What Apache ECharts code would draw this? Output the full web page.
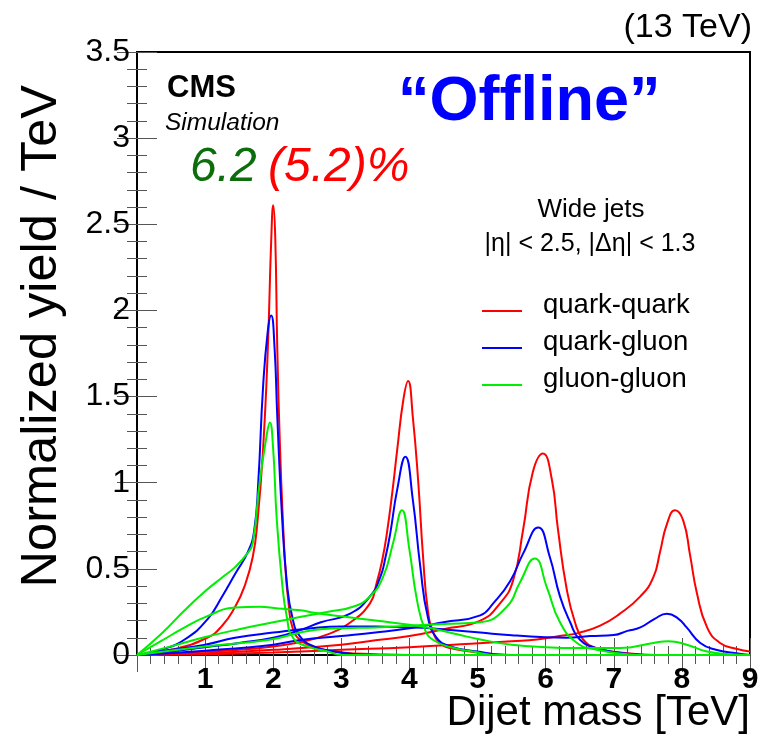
<!DOCTYPE html>
<html>
<head>
<meta charset="utf-8">
<script src="https://cdn.jsdelivr.net/npm/echarts@6.0.0/dist/echarts.min.js"></script>
<style>
  html, body { margin: 0; padding: 0; background: #ffffff; }
  #chart { width: 768px; height: 738px; }
</style>
</head>
<body>
<div id="chart"></div>
<script>
// Simulated dijet mass shapes, [mass in TeV, normalized yield / TeV],
// for resonances generated at 2, 4, 6 and 8 TeV.

// quark-quark
const qq2 = [[0,0],[0.5,0.03],[1.03,0.10],[1.25,0.17],[1.44,0.28],[1.58,0.40],[1.7,0.57],[1.77,0.78],[1.85,1.19],[1.92,1.77],[1.97,2.4],[2.0,2.61],[2.03,2.42],[2.06,1.77],[2.1,1.2],[2.14,0.80],[2.18,0.50],[2.22,0.32],[2.29,0.15],[2.44,0.075],[2.7,0.035],[3.0,0.015],[3.5,0.005],[4.0,0],[9,0]];
const qq4 = [[0,0],[0.5,0.008],[1.0,0.02],[1.5,0.03],[2.0,0.05],[2.4,0.075],[2.8,0.12],[3.1,0.18],[3.42,0.30],[3.52,0.42],[3.6,0.55],[3.67,0.71],[3.75,0.95],[3.82,1.19],[3.91,1.48],[3.98,1.59],[4.05,1.38],[4.13,1.0],[4.2,0.57],[4.27,0.26],[4.35,0.13],[4.45,0.07],[4.6,0.04],[5.0,0.015],[5.5,0],[9,0]];
const qq6 = [[0,0],[1,0.01],[2,0.03],[3,0.06],[3.5,0.085],[4,0.11],[4.5,0.15],[5.04,0.2],[5.33,0.30],[5.52,0.43],[5.67,0.73],[5.81,1.06],[5.96,1.17],[6.09,1.02],[6.18,0.73],[6.31,0.38],[6.43,0.19],[6.55,0.09],[6.75,0.04],[7.2,0.01],[7.6,0],[9,0]];
const qq8 = [[0,0],[1,0.005],[2,0.015],[3,0.03],[4,0.045],[4.9,0.065],[5.5,0.08],[5.87,0.09],[6.2,0.11],[6.5,0.13],[6.8,0.17],[7.09,0.24],[7.39,0.34],[7.58,0.45],[7.68,0.60],[7.78,0.76],[7.9,0.84],[8.02,0.78],[8.12,0.58],[8.22,0.36],[8.37,0.16],[8.56,0.07],[8.81,0.035],[9,0.02]];

// quark-gluon
const qg2 = [[0,0],[0.35,0.03],[0.7,0.09],[1.04,0.21],[1.25,0.34],[1.44,0.47],[1.63,0.60],[1.72,0.72],[1.78,1.0],[1.85,1.55],[1.92,1.88],[1.97,1.97],[2.02,1.78],[2.06,1.38],[2.13,0.80],[2.2,0.42],[2.28,0.22],[2.39,0.11],[2.6,0.05],[2.9,0.02],[3.2,0.005],[3.5,0],[9,0]];
const qg4 = [[0,0],[0.5,0.02],[1,0.045],[1.5,0.07],[2.0,0.1],[2.4,0.145],[2.7,0.19],[3.13,0.24],[3.42,0.34],[3.57,0.45],[3.65,0.57],[3.72,0.71],[3.82,0.96],[3.94,1.15],[4.05,0.9],[4.16,0.51],[4.27,0.22],[4.4,0.1],[4.6,0.05],[5.0,0.02],[5.4,0],[9,0]];
const qg6 = [[0,0],[1,0.025],[2,0.06],[2.4,0.087],[3,0.11],[3.5,0.13],[4,0.155],[4.5,0.19],[5.04,0.23],[5.23,0.30],[5.48,0.43],[5.67,0.59],[5.89,0.74],[6.06,0.57],[6.21,0.34],[6.36,0.19],[6.5,0.09],[6.75,0.04],[7.3,0.005],[7.6,0],[9,0]];
const qg8 = [[0,0],[0.5,0.03],[1.0,0.06],[1.44,0.1],[2.0,0.13],[2.6,0.157],[3.0,0.165],[3.5,0.165],[4.0,0.16],[4.3,0.155],[4.6,0.145],[5.04,0.13],[5.5,0.115],[6.0,0.103],[6.3,0.10],[6.65,0.11],[7.0,0.116],[7.2,0.14],[7.39,0.16],[7.6,0.21],[7.78,0.24],[7.95,0.21],[8.07,0.16],[8.27,0.07],[8.5,0.03],[8.8,0.01],[9,0]];

// gluon-gluon
const gg2 = [[0,0],[0.35,0.12],[0.7,0.26],[1.0,0.37],[1.25,0.45],[1.44,0.51],[1.62,0.59],[1.7,0.65],[1.8,1.0],[1.91,1.29],[1.95,1.35],[2.0,1.19],[2.05,0.80],[2.13,0.42],[2.2,0.22],[2.29,0.10],[2.5,0.05],[2.8,0.02],[3.0,0],[9,0]];
const gg4 = [[0,0],[0.5,0.05],[0.96,0.1],[1.5,0.15],[2.0,0.19],[2.39,0.22],[2.79,0.25],[3.17,0.28],[3.42,0.34],[3.61,0.45],[3.76,0.65],[3.89,0.84],[4.0,0.61],[4.11,0.32],[4.23,0.145],[4.35,0.087],[4.6,0.046],[4.93,0.02],[5.3,0],[9,0]];
const gg6 = [[0,0],[1,0.05],[1.92,0.087],[2.6,0.145],[3,0.155],[3.5,0.16],[4,0.17],[4.5,0.18],[5.04,0.19],[5.43,0.28],[5.62,0.42],[5.84,0.56],[6.02,0.39],[6.21,0.19],[6.46,0.07],[6.75,0.03],[7.2,0.005],[7.5,0],[9,0]];
const gg8 = [[0,0],[0.35,0.08],[0.7,0.16],[1.0,0.22],[1.44,0.275],[1.8,0.28],[2.07,0.27],[2.4,0.26],[2.6,0.245],[3.0,0.225],[3.5,0.2],[4.0,0.175],[4.3,0.157],[4.7,0.12],[5.04,0.09],[5.5,0.06],[6.0,0.045],[6.5,0.04],[7.09,0.04],[7.58,0.07],[7.8,0.08],[8.07,0.06],[8.37,0.02],[8.7,0.005],[9,0]];

const channels = ['quark-quark', 'quark-gluon', 'gluon-gluon'];
const channelColors = ['#ff0000', '#0000ff', '#00ee00'];
const channelCurves = [[qq2, qq4, qq6, qq8], [qg2, qg4, qg6, qg8], [gg2, gg4, gg6, gg8]];

const xRange = { min: 0, max: 9, step: 1 };
const yRange = { min: 0, max: 3.5, step: 0.5 };

const FONT = '"Liberation Sans", Arial, Helvetica, sans-serif';

const chart = echarts.init(document.getElementById('chart'), null, { renderer: 'canvas' });

const series = [];
channels.forEach((name, c) => {
  channelCurves[c].forEach(curve => {
    series.push({
      name: name,
      type: 'line',
      data: curve,
      showSymbol: false,
      smooth: 0.5,
      clip: false,
      lineStyle: { color: channelColors[c], width: 2 },
      itemStyle: { color: channelColors[c] },
      emphasis: { disabled: true },
      z: 3 + c
    });
  });
});

const tickStyle = { color: '#555', width: 1 };

function xAxisDef(pos, labels) {
  return {
    type: 'value', position: pos, min: xRange.min, max: xRange.max, interval: xRange.step,
    axisLine: { show: false },
    axisTick: { show: true, inside: true, length: 17, lineStyle: tickStyle },
    minorTick: { show: true, splitNumber: 5, length: 9, lineStyle: tickStyle },
    splitLine: { show: false },
    axisLabel: labels ? {
      show: true, margin: 10, color: '#000', fontFamily: FONT, fontSize: 30, fontWeight: 'bold',
      showMinLabel: true, showMaxLabel: true,
      formatter: v => (v === 0 ? '' : String(v))
    } : { show: false }
  };
}

function yAxisDef(pos, labels) {
  return {
    type: 'value', position: pos, min: yRange.min, max: yRange.max, interval: yRange.step,
    axisLine: { show: false },
    axisTick: { show: true, inside: true, length: 20, lineStyle: tickStyle },
    minorTick: { show: true, splitNumber: 5, length: 10, lineStyle: tickStyle },
    splitLine: { show: false },
    axisLabel: labels ? {
      show: true, margin: 7, color: '#000', fontFamily: FONT, fontSize: 32,
      showMinLabel: true, showMaxLabel: true
    } : { show: false }
  };
}

const legendTop = 311, legendStep = 37;
const legendGraphics = [];
channels.forEach((name, i) => {
  const y = legendTop + i * legendStep;
  legendGraphics.push({
    type: 'line', shape: { x1: 482, y1: y, x2: 522, y2: y },
    style: { stroke: channelColors[i], lineWidth: 2 }
  });
  legendGraphics.push({
    type: 'text', x: 543, y: y - 6,
    style: { text: name, fill: '#000', font: '27.5px ' + FONT, align: 'left', verticalAlign: 'middle' }
  });
});

chart.setOption({
  animation: false,
  backgroundColor: '#ffffff',
  grid: {
    left: 137, top: 52, right: 18, bottom: 83,
    containLabel: false, outerBoundsMode: 'none',
    show: true, borderColor: '#000', borderWidth: 2, backgroundColor: 'transparent'
  },
  xAxis: [xAxisDef('bottom', true), xAxisDef('top', false)],
  yAxis: [yAxisDef('left', true), yAxisDef('right', false)],
  series: series,
  graphic: [
    { type: 'text', x: 752, y: 28, style: { text: '(13 TeV)', fill: '#000', font: '34px ' + FONT, align: 'right', verticalAlign: 'middle' } },
    { type: 'text', x: 167, y: 88, style: { text: 'CMS', fill: '#000', font: 'bold 31px ' + FONT, align: 'left', verticalAlign: 'middle' } },
    { type: 'text', x: 165, y: 123, style: { text: 'Simulation', fill: '#000', font: 'italic 24.5px ' + FONT, align: 'left', verticalAlign: 'middle' } },
    { type: 'text', x: 398, y: 103, style: { text: '\u201COffline\u201D', fill: '#0000ff', font: 'bold 63px ' + FONT, align: 'left', verticalAlign: 'middle' } },
    { type: 'text', x: 190, y: 168, style: { text: '6.2', fill: '#0b6e0b', font: 'italic 48px ' + FONT, align: 'left', verticalAlign: 'middle' } },
    { type: 'text', x: 268, y: 168, style: { text: '(5.2)%', fill: '#ff0000', font: 'italic 48px ' + FONT, align: 'left', verticalAlign: 'middle' } },
    { type: 'text', x: 591, y: 210, style: { text: 'Wide jets', fill: '#000', font: '26px ' + FONT, align: 'center', verticalAlign: 'middle' } },
    { type: 'text', x: 590, y: 244, style: { text: '|\u03B7| < 2.5, |\u0394\u03B7| < 1.3', fill: '#000', font: '25px ' + FONT, align: 'center', verticalAlign: 'middle' } },
    { type: 'text', x: 750, y: 713, style: { text: 'Dijet mass [TeV]', fill: '#000', font: '42px ' + FONT, align: 'right', verticalAlign: 'middle' } },
    { type: 'text', x: 42, y: 85, rotation: Math.PI / 2, style: { text: 'Normalized yield / TeV', fill: '#000', font: '50.5px ' + FONT, align: 'right', verticalAlign: 'middle' } }
  ].concat(legendGraphics)
});
</script>
</body>
</html>
